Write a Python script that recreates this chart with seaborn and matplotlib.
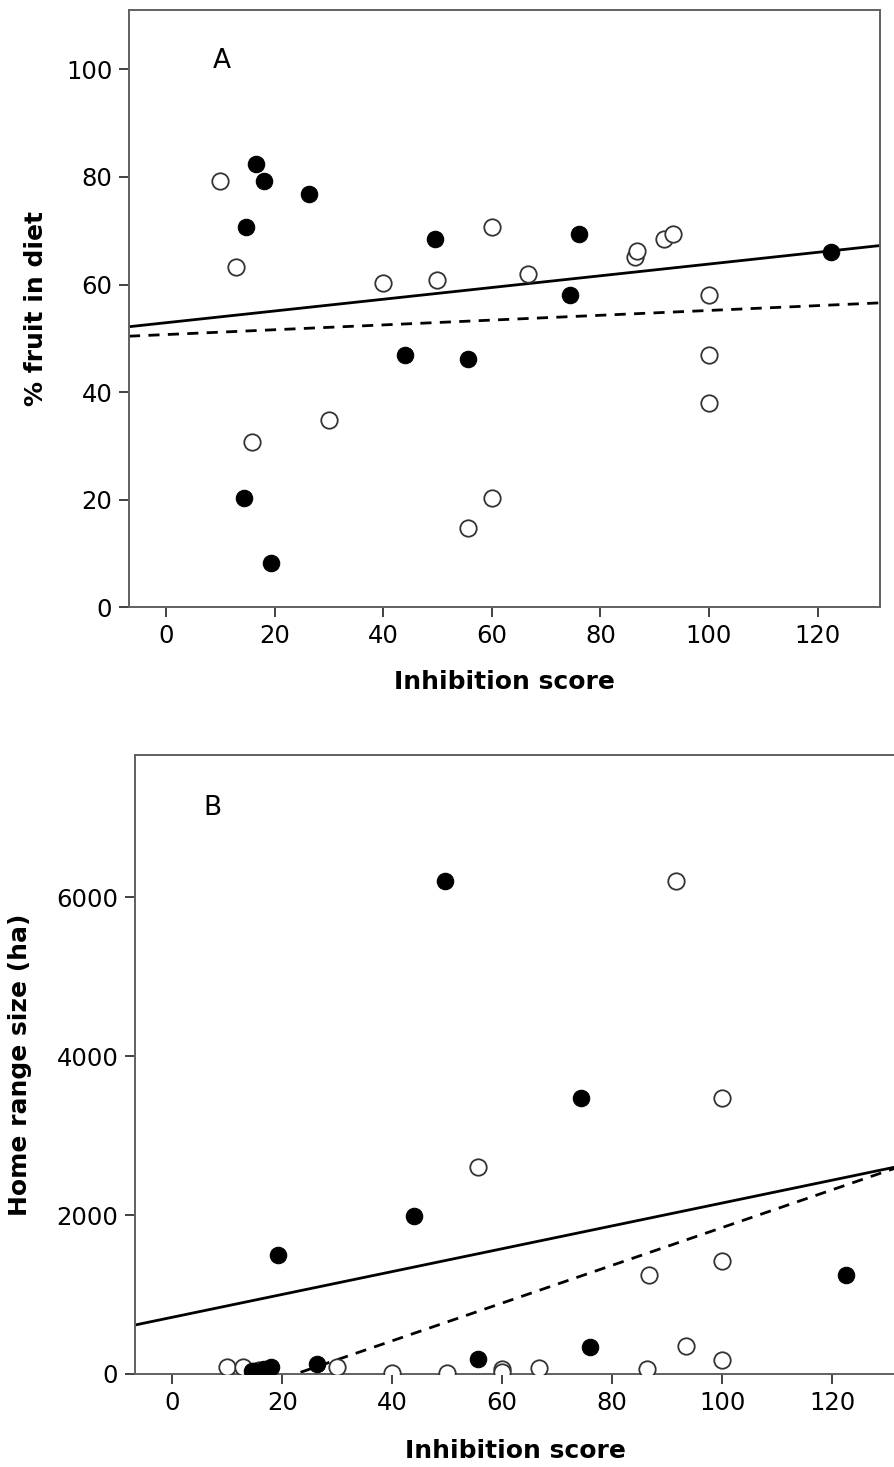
import matplotlib
matplotlib.use("Agg")
import matplotlib.pyplot as plt
import seaborn as sns
import pandas as pd

# inhibition score, % fruit in diet, home range (ha) per individual
FILLED_X = [14.4, 14.8, 16.6, 18.0, 19.3, 26.4, 44.0, 49.6, 55.6, 74.4, 76.0, 122.5]
FILLED_FRUIT = [20.4, 70.6, 82.4, 79.3, 8.3, 76.9, 46.9, 68.4, 46.2, 58.1, 69.4, 66.1]
FILLED_RANGE = [40, 40, 60, 90, 1497, 122, 1987, 6201, 185, 3468, 344, 1245]

OPEN_X = [10.0, 12.9, 15.8, 30.0, 40.0, 50.0, 55.6, 60.0, 60.0, 66.7, 86.3, 86.7,
          91.7, 93.4, 100.0, 100.0, 100.0]
OPEN_FRUIT = [79.3, 63.3, 30.8, 34.9, 60.2, 60.8, 14.7, 70.6, 20.4, 62.0, 65.1, 66.2,
              68.4, 69.4, 58.1, 46.9, 37.9]
OPEN_RANGE = [84, 92, 50, 84, 10, 10, 2600, 59, 29, 72, 59, 1245, 6201, 352, 3468,
              1425, 176]

# fit lines as drawn in the figure: (intercept, slope)
FRUIT_FIT_FILLED = (52.9, 0.109)
FRUIT_FIT_OPEN = (50.7, 0.0448)
RANGE_FIT_FILLED = (714, 14.37)
RANGE_FIT_OPEN = (-532, 23.74)

X_TICKS = [0, 20, 40, 60, 80, 100, 120]
FRUIT_TICKS = [0, 20, 40, 60, 80, 100]
RANGE_TICKS = [0, 2000, 4000, 6000]

XLIM = (-6.8, 131.5)
SPINE = "#606060"


def style_axes(ax):
    ''' SPSS-like box with outward ticks '''
    for side in ["left", "right", "top", "bottom"]:
        ax.spines[side].set_color(SPINE)
        ax.spines[side].set_linewidth(1.4)
    ax.tick_params(axis="both", direction="out", length=7, width=1.3,
                   color="#333333", labelsize=17.5, labelcolor="black", pad=5)


def fit_line(ax, coef, ls):
    ''' draw intercept/slope line across the whole x range '''
    xs = list(XLIM)
    ys = [coef[0] + coef[1] * x for x in xs]
    sns.lineplot(x=xs, y=ys, ax=ax, color="black", lw=2.0, ls=ls)


def panel(ax, cols, fits, ylim, yticks, ylabel, letter, letter_xy, ylab_x):
    filled = pd.DataFrame({"x": FILLED_X, "y": cols[0]})
    opened = pd.DataFrame({"x": OPEN_X, "y": cols[1]})
    fit_line(ax, fits[0], "-")
    fit_line(ax, fits[1], (0, (4, 3)))
    sns.scatterplot(data=opened, x="x", y="y", ax=ax, s=140, color="white",
                    edgecolor="#333333", linewidth=1.3, zorder=3)
    sns.scatterplot(data=filled, x="x", y="y", ax=ax, s=140, color="black",
                    edgecolor="black", linewidth=0.8, zorder=4)
    ax.set_xlim(*XLIM)
    ax.set_ylim(*ylim)
    ax.set_xticks(X_TICKS)
    ax.set_yticks(yticks)
    ax.set_xlabel("Inhibition score", fontsize=18, fontweight="bold",
                  color="black")
    ax.set_ylabel(ylabel, fontsize=18, fontweight="bold", color="black")
    ax.xaxis.set_label_coords(0.5, -0.105)
    ax.yaxis.set_label_coords(ylab_x, 0.5)
    ax.text(letter_xy[0], letter_xy[1], letter, fontsize=19, ha="center",
            va="center", color="black")
    style_axes(ax)


def main():
    sns.set_style("ticks")
    plt.rcParams["font.family"] = ["DejaVu Sans"]
    fig = plt.figure(figsize=(8.94, 14.67), dpi=100)
    ax_a = fig.add_axes([0.1443, 0.5859, 0.8400, 0.4073])
    ax_b = fig.add_axes([0.1510, 0.0634, 0.8503, 0.4220])

    panel(ax_a, (FILLED_FRUIT, OPEN_FRUIT), (FRUIT_FIT_FILLED, FRUIT_FIT_OPEN),
          (0, 111), FRUIT_TICKS, "% fruit in diet", "A", (10.3, 101.5), -0.108)
    panel(ax_b, (FILLED_RANGE, OPEN_RANGE), (RANGE_FIT_FILLED, RANGE_FIT_OPEN),
          (0, 7790), RANGE_TICKS, "Home range size (ha)", "B", (7.3, 7120),
          -0.1355)
    ax_b.spines["right"].set_visible(False)

    fig.savefig("out.png", dpi=100)


if __name__ == "__main__":
    main()
